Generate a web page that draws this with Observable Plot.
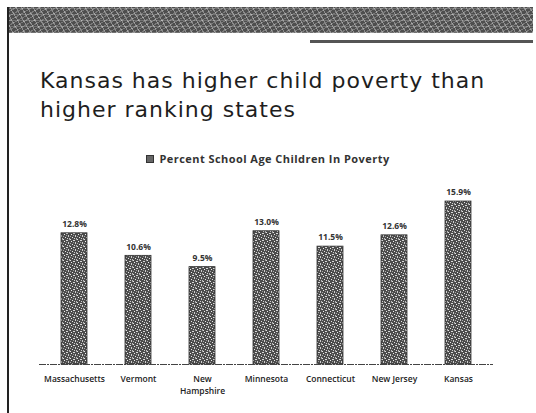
<!DOCTYPE html>
<html>
<head>
<meta charset="utf-8">
<script src="https://cdn.jsdelivr.net/npm/d3@7"></script>
<script src="https://cdn.jsdelivr.net/npm/@observablehq/plot@0.6"></script>
<style>
  html, body { margin: 0; padding: 0; background: #fff; }
  #page { position: relative; width: 536px; height: 413px; overflow: hidden; background: #fff; }
  #band { position: absolute; left: 7px; top: 7px; width: 526px; height: 26px;
    background-color: #4e4e4e;
    background-image:
      repeating-linear-gradient(60deg, rgba(255,255,255,0.35) 0 1px, transparent 1px 5px),
      repeating-linear-gradient(-30deg, rgba(255,255,255,0.25) 0 1px, transparent 1px 4px),
      repeating-linear-gradient(0deg, rgba(255,255,255,0.2) 0 1px, transparent 1px 6px);
  }
  #strip { position: absolute; left: 310px; top: 40px; width: 223px; height: 3px; background: #555; }
  #lborder { position: absolute; left: 7px; top: 7px; width: 2px; height: 406px; background: #222; }
  #title { position: absolute; left: 40px; top: 66px; margin: 0; font-family: "DejaVu Sans", sans-serif;
    font-weight: 400; font-size: 22px; letter-spacing: 1px; line-height: 29px; color: #1e1e1e; white-space: nowrap; }
  #legend { position: absolute; left: 0; width: 536px; top: 151px; text-align: center;
    font-family: "Open Sans", sans-serif; font-weight: 700; font-size: 11px; letter-spacing: 0.45px; color: #333; }
  #legend .sw { display: inline-block; width: 6px; height: 6px; background: #666; border: 1px solid #333; margin-right: 5px; vertical-align: 0px; }
  #chart { position: absolute; left: 0; top: 176px; }
</style>
</head>
<body>
<div id="page">
  <div id="band"></div>
  <div id="strip"></div>
  <div id="lborder"></div>
  <h1 id="title">Kansas has higher child poverty than<br>higher ranking states</h1>
  <div id="legend"><span class="sw"></span>Percent School Age Children In Poverty</div>
  <div id="chart"></div>
</div>
<script>
const states = ["Massachusetts", "Vermont", "New Hampshire", "Minnesota", "Connecticut", "New Jersey", "Kansas"];
const stateLabels = ["Massachusetts", "Vermont", "New\nHampshire", "Minnesota", "Connecticut", "New Jersey", "Kansas"];
const poverty = [12.8, 10.6, 9.5, 13.0, 11.5, 12.6, 15.9];

const data = states.map((s, i) => ({state: s, value: poverty[i]}));
const labelOf = new Map(states.map((s, i) => [s, stateLabels[i]]));

const chart = Plot.plot({
  width: 536,
  height: 237,
  marginLeft: 39,
  marginRight: 43,
  marginTop: 24,
  marginBottom: 49,
  style: {fontFamily: "'Open Sans', sans-serif", background: "transparent", color: "#222"},
  x: {domain: states, paddingInner: 0.6, paddingOuter: 0.3},
  y: {domain: [0, 16], axis: null},
  marks: [
    Plot.barY(data, {x: "state", y: "value", fill: "url(#tex)", stroke: "#333", strokeWidth: 0.8}),
    Plot.ruleY([0], {stroke: "#444", strokeWidth: 1, strokeDasharray: "7,1,2,1"}),
    Plot.text(data, {x: "state", y: "value", text: d => d.value.toFixed(1) + "%", dy: -9,
      fontSize: 8.5, fontWeight: 700, fill: "#333"}),
    Plot.axisX({tickSize: 0, tickPadding: 8, fontSize: 8.5, fontWeight: 600, lineHeight: 1.5,
      tickFormat: d => labelOf.get(d), label: null, fill: "#222"})
  ]
});

// texture pattern for bars
const ns = "http://www.w3.org/2000/svg";
const defs = document.createElementNS(ns, "defs");
defs.innerHTML = `
  <pattern id="tex" patternUnits="userSpaceOnUse" width="7" height="7">
    <rect width="7" height="7" fill="#4c4c4c"/>
    <rect x="0" y="0" width="1" height="1" fill="#e6e6e6"/>
    <rect x="3" y="1" width="2" height="1" fill="#d8d8d8"/>
    <rect x="1" y="2" width="1" height="1" fill="#f0f0f0"/>
    <rect x="5" y="3" width="1" height="2" fill="#cfcfcf"/>
    <rect x="2" y="5" width="1" height="1" fill="#e8e8e8"/>
    <rect x="6" y="6" width="1" height="1" fill="#bdbdbd"/>
    <rect x="0" y="4" width="1" height="1" fill="#a8a8a8"/>
    <rect x="6" y="0" width="1" height="1" fill="#a0a0a0"/>
    <rect x="3" y="3" width="1" height="1" fill="#9a9a9a"/>
    <rect x="4" y="6" width="1" height="1" fill="#d0d0d0"/>
  </pattern>`;
chart.insertBefore(defs, chart.firstChild);
document.getElementById("chart").appendChild(chart);
</script>
</body>
</html>
